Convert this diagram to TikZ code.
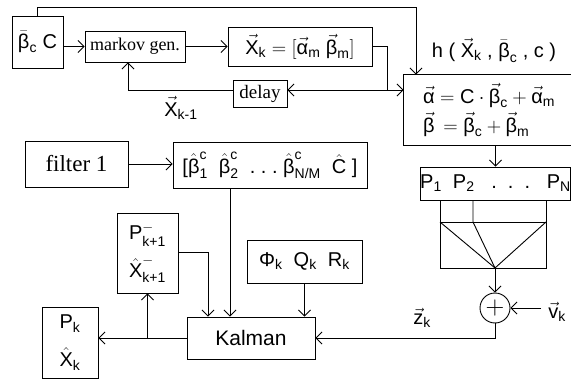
\RequirePackage{fix-cm}
\documentclass[tikz,border=0pt]{standalone}
\usepackage{amsmath}
\usepackage{fontspec}
\setmainfont{Liberation Sans}
\newfontfamily\seriffam{Liberation Serif}
\usetikzlibrary{arrows.meta}
\newcommand\tx[1]{\text{#1}}
\newcommand\vx[1]{\vec{\text{#1}}}
\begin{document}
\begin{tikzpicture}[x=1pt,y=-1pt,line width=0.9pt,
  arr/.style={-{Straight Barb[length=6pt,width=12pt]}},
  box/.style={draw, inner sep=0pt, align=center},
  every node/.style={font=\fontsize{20}{24}\selectfont}]
\useasboundingbox (0,0) rectangle (571,380);

% nodes
\node[box, minimum width=51pt, minimum height=52pt] (bc) at (37.5,42) {$\bar{\tx{β}}_{\tx{c}}$\ C};
\node[box, minimum width=100pt, minimum height=31pt, font=\seriffam\fontsize{18}{20}\selectfont] (mg) at (135,46.5) {markov gen.};
\node[box, minimum width=144pt, minimum height=39pt] (xk) at (300,46.5) {$\vx{X}_{\tx{k}} = [\vx{α}_{\tx{m}}\ \vx{β}_{\tx{m}}]$};
\node[box, minimum width=54pt, minimum height=27pt, font=\seriffam\fontsize{19}{21}\selectfont] (dl) at (260,93.5) {delay};
\node (hl) at (494,50) {h ( $\vx{X}_{\tx{k}}$ , $\bar{\tx{β}}_{\tx{c}}$ , c )};
\node[inner sep=0pt, minimum width=170pt, minimum height=70pt, align=left, font=\fontsize{20}{29}\selectfont] (hb) at (489,110)
  {$\vx{α} = \tx{C}\cdot\vx{β}_{\tx{c}} + \vx{α}_{\tx{m}}$\\ $\vx{β}\, = \vx{β}_{\tx{c}} + \vx{β}_{\tx{m}}$};
\node[box, minimum width=141pt, minimum height=33pt] (pb) at (495.5,183.5) {P$_{\tx{1}}$\ \ P$_{\tx{2}}$\ \ \ .\ \ .\ \ .\ \ \ P$_{\tx{N}}$};
\node[draw, circle, minimum size=30pt, inner sep=0pt, font=\fontsize{26}{26}\selectfont] (plus) at (495,308) {$+$};
\node (vk) at (557,312) {$\vx{v}_{\tx{k}}$};
\node (zk) at (422,318) {$\vx{z}_{\tx{k}}$};
\node[box, minimum width=128pt, minimum height=42pt, font=\fontsize{21}{24}\selectfont] (kal) at (251,338) {Kalman};
\node[box, minimum width=115pt, minimum height=43pt] (phi) at (304.5,261.5) {$\tx{Φ}_{\tx{k}}$\ \ Q$_{\tx{k}}$\ \ R$_{\tx{k}}$};
\node[box, minimum width=103pt, minimum height=46pt, font=\seriffam\fontsize{23}{26}\selectfont] (f1) at (76.5,164) {filter 1};
\node[box, minimum width=194pt, minimum height=46pt] (bh) at (270,165)
  {[$\hat{\tx{β}}^{\tx{c}}_{\tx{1}}$\ \ $\hat{\tx{β}}^{\tx{c}}_{\tx{2}}$\ \ .\ .\ .\ $\hat{\tx{β}}^{\tx{c}}_{\tx{N/M}}$\ \ $\hat{\tx{C}}$ ]};
\node[box, minimum width=61pt, minimum height=80pt, font=\fontsize{20}{38}\selectfont] (pk1) at (147.5,253)
  {P$^{-}_{\tx{k+1}}$\\ $\hat{\tx{X}}^{-}_{\tx{k+1}}$};
\node[box, minimum width=56pt, minimum height=71pt, font=\fontsize{20}{38}\selectfont] (pk) at (70,342.5)
  {P$_{\tx{k}}$\\ $\hat{\tx{X}}_{\tx{k}}$};
\node (xkm) at (181,108) {$\vx{X}_{\tx{k-1}}$};

% open h box
\draw (hb.north east) -- (hb.north west) -- (hb.south west) -- (hb.south east);

% coordinates
\coordinate (top) at (416,7);
\coordinate (jn) at (387,90);
\coordinate (dlb) at (128,90);
\coordinate (a1) at (208,252);
\coordinate (b1) at (230,188);
\coordinate (tl) at (440,222);
\coordinate (tm) at (473,222);
\coordinate (tr) at (546,222);
\coordinate (bl) at (440,268);
\coordinate (br) at (546,268);
\coordinate (apex) at (495,268);
\coordinate (vs) at (541,308);

% connectors
\draw[arr] (bc.east |- mg.west) -- (mg.west);
\draw[arr] (mg.east) -- (xk.west |- mg.east);
\draw[arr] (bc.north) |- (top) -- (top |- hb.north);
\draw (xk.east) -| (jn);
\draw[arr] (jn) -- (dl.east |- jn);
\draw[arr] (jn) -- (hb.west |- jn);
\draw[arr] (dl.west |- jn) -- (dlb) -- (dlb |- mg.south);
\draw[arr] (pb.north |- hb.south) -- (pb.north);
\draw[arr] (f1.east) -- (bh.west |- f1.east);
\draw[arr] (b1) -- (b1 |- kal.north);
\draw[arr] (pk1.east |- a1) -- (a1) -- (a1 |- kal.north);
\draw[arr] (phi.south) -- (phi.south |- kal.north);
\draw[arr] (kal.west) -- (kal.west -| pk.east);
\draw[arr] (pk1.south |- kal.west) -- (pk1.south);

% combiner
\draw (tl |- pb.south) -- (bl) -- (br) -- (tr |- pb.south);
\draw (tl) -- (tr);
\draw (tm |- pb.south) -- (tm) -- (apex);
\draw (tl) -- (apex) -- (tr);
\draw[arr] (apex) -- (plus.north);
\draw[arr] (vs) -- (plus.east);
\draw[arr] (plus.south) |- (kal.east);
\end{tikzpicture}
\end{document}
